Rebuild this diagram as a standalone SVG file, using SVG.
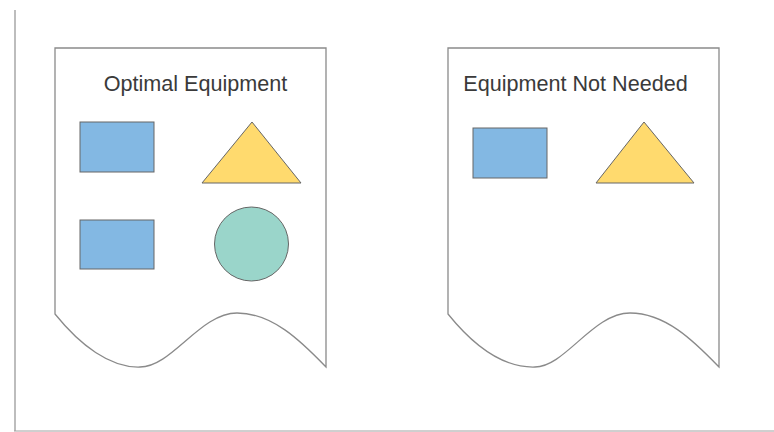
<svg xmlns="http://www.w3.org/2000/svg" width="774" height="432" viewBox="0 0 774 432">
<style>
.doc{fill:#fff;stroke:#8a8a8a;stroke-width:1.3}
.rect{fill:#83b8e3;stroke:#666;stroke-width:1}
.tri{fill:#ffda6e;stroke:#666;stroke-width:1}
.circ{fill:#9ad5ca;stroke:#666;stroke-width:1}
.title{font-family:"Liberation Sans",Arial,sans-serif;font-size:21.6px;fill:#3a3a3a;text-anchor:middle}
</style>
<rect x="0" y="0" width="774" height="432" fill="#fff"/>
<g id="frame">
<line x1="15" y1="10" x2="15" y2="431" stroke="#bdbdbd" stroke-width="2"/>
<line x1="14" y1="431" x2="774" y2="431" stroke="#a0a0a0" stroke-width="1"/>
</g>
<g id="doc-optimal">
<path class="doc" d="M55,48 H326 V367 C300,340 272,313 237,313 C200,313 172,367 140,367 C110,368 80,345 55,314 Z"/>
<text class="title" x="195.5" y="91">Optimal Equipment</text>
<rect class="rect" x="80" y="122" width="74" height="50"/>
<polygon class="tri" points="252,122 301,183 202,183"/>
<rect class="rect" x="80" y="220" width="74" height="49"/>
<circle class="circ" cx="251.5" cy="244" r="37"/>
</g>
<g id="doc-not-needed">
<path class="doc" d="M448,48 H719 V367 C693,340 665,313 630,313 C593,313 565,367 535,367 C503,368 473,345 448,314 Z"/>
<text class="title" x="575.5" y="91">Equipment Not Needed</text>
<rect class="rect" x="473" y="128" width="74" height="50"/>
<polygon class="tri" points="644,122 694,183 596,183"/>
</g>
<g id="connectors"/>
</svg>
